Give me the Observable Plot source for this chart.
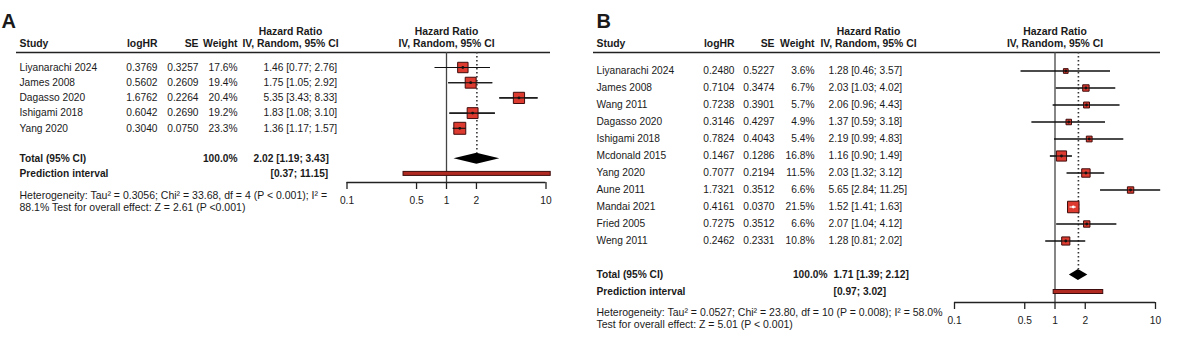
<!DOCTYPE html>
<html><head><meta charset="utf-8">
<script src="https://cdn.jsdelivr.net/npm/d3@7"></script>
<script src="https://cdn.jsdelivr.net/npm/@observablehq/plot@0.6"></script>
<style>
body{margin:0;background:#fff;}
#wrap{display:flex;width:1190px;height:351px;overflow:hidden;}
</style></head><body><div id="wrap"></div>
<script>
// ---------- Panel A data ----------
const studiesA = ["Liyanarachi 2024","James 2008","Dagasso 2020","Ishigami 2018","Yang 2020"];
const logHRA = [0.3769,0.5602,1.6762,0.6042,0.3040];
const seA = [0.3257,0.2609,0.2264,0.2690,0.0750];
const weightA = [17.6,19.4,20.4,19.2,23.3];
const hrA = [1.46,1.75,5.35,1.83,1.36];
const loA = [0.77,1.05,3.43,1.08,1.17];
const hiA = [2.76,2.92,8.33,3.10,1.57];
const totalA = [2.02,1.19,3.43];
const predA = [0.37,11.15];
const hetA = ["Heterogeneity: Tau² = 0.3056; Chi² = 33.68, df = 4 (P < 0.001); I² =",
              "88.1% Test for overall effect: Z = 2.61 (P <0.001)"];

// ---------- Panel B data ----------
const studiesB = ["Liyanarachi 2024","James 2008","Wang 2011","Dagasso 2020","Ishigami 2018","Mcdonald 2015","Yang 2020","Aune 2011","Mandai 2021","Fried 2005","Weng 2011"];
const logHRB = [0.2480,0.7104,0.7238,0.3146,0.7824,0.1467,0.7077,1.7321,0.4161,0.7275,0.2462];
const seB = [0.5227,0.3474,0.3901,0.4297,0.4043,0.1286,0.2194,0.3512,0.0370,0.3512,0.2331];
const weightB = [3.6,6.7,5.7,4.9,5.4,16.8,11.5,6.6,21.5,6.6,10.8];
const hrB = [1.28,2.03,2.06,1.37,2.19,1.16,2.03,5.65,1.52,2.07,1.28];
const loB = [0.46,1.03,0.96,0.59,0.99,0.90,1.32,2.84,1.41,1.04,0.81];
const hiB = [3.57,4.02,4.43,3.18,4.83,1.49,3.12,11.25,1.63,4.12,2.02];
const totalB = [1.71,1.39,2.12];
const predB = [0.97,3.02];
const hetB = ["Heterogeneity: Tau² = 0.0527; Chi² = 23.80, df = 10 (P = 0.008); I² = 58.0%",
              "Test for overall effect: Z = 5.01 (P < 0.001)"];

const axisTicks = [0.1,0.5,1,2,10];
const FONT = "'Liberation Sans', Arial, Helvetica, sans-serif";

function panel(cfg, L) {
  const rows = cfg.studies.map((s,i)=>({i, study:s, logHR:cfg.logHR[i], se:cfg.se[i], w:cfg.weight[i], hr:cfg.hr[i], lo:cfg.lo[i], hi:cfg.hi[i]}));
  const toRow = px => (px - L.row0)/L.step;
  const headerRow = toRow(L.headerPx), axisRow = toRow(L.axisPx);
  const [tHR,tLo,tHi] = cfg.total;
  const dh = L.diamondHalf/L.step, ph = L.predHalf/L.step;
  const rMax = 7, wMax = 25;
  const pxPerDecade = (L.x10-L.x01)/2;
  const inside = d => (Math.log10(d.hi)-Math.log10(d.lo))*pxPerDecade < Math.sqrt(Math.PI)*rMax*Math.sqrt(d.w/wMax);
  const cx = px => px - L.ml;
  const diamond = [
    {x:tLo, y1:L.totalIdx, y2:L.totalIdx},
    {x:tHR, y1:L.totalIdx-dh, y2:L.totalIdx+dh},
    {x:tHi, y1:L.totalIdx, y2:L.totalIdx}
  ];
  const hdr = (txt, px, py, anchor, extra={}) => Plot.text([txt], {text:d=>d, frameAnchor:"top-left", dx:cx(px), dy:py, textAnchor:anchor, fontWeight:"bold", fontSize:10.4, ...extra});
  const col = (fn, px, anchor, extra={}) => Plot.text(rows, {y:"i", text:fn, frameAnchor:"left", dx:cx(px), textAnchor:anchor, ...extra});
  const one = (txt, row, px, anchor, extra={}) => Plot.text([txt], {y:()=>row, text:d=>d, frameAnchor:"left", dx:cx(px), textAnchor:anchor, ...extra});
  const fmtCI = (h,l,u) => `${h.toFixed(2)} [${l.toFixed(2)}; ${u.toFixed(2)}]`;

  return Plot.plot({
    width: L.W, height: 351,
    marginLeft: L.ml, marginRight: L.mr, marginTop: 0, marginBottom: 351 - L.axisPx,
    x: {type:"log", domain:[0.1,10], range:[L.x01, L.x10]},
    y: {domain:[0,1], range:[L.row0, L.row0+L.step], axis:null},
    r: {type:"sqrt", domain:[0,wMax], range:[0,rMax]},
    style: {fontFamily:FONT, fontSize:"10.2px", color:"#1a1a1a", background:"white", overflow:"visible"},
    marks: [
      // panel letter
      Plot.text([cfg.letter], {text:d=>d, frameAnchor:"top-left", dx:cx(L.letterX), dy:13, textAnchor:"start", fontWeight:"bold", fontSize:20}),
      // headers
      hdr("Study", L.studyX, 39, "start"),
      hdr("logHR", L.logR, 39, "end"),
      hdr("SE", L.seR, 39, "end"),
      hdr("Weight", L.wR, 39, "end"),
      hdr("Hazard Ratio", L.hrHdrC, 27, "middle"),
      hdr("IV, Random, 95% CI", L.hrHdrC, 39, "middle"),
      Plot.text([1], {x:d=>d, text:()=>"Hazard Ratio", frameAnchor:"top", dy:27, fontWeight:"bold", fontSize:10.4}),
      Plot.text([1], {x:d=>d, text:()=>"IV, Random, 95% CI", frameAnchor:"top", dy:39, fontWeight:"bold", fontSize:10.4}),
      Plot.ruleY([headerRow], {stroke:"#222", strokeWidth:1.6}),
      // table rows
      col(d=>d.study, L.studyX, "start"),
      col(d=>d.logHR.toFixed(4), L.logR, "end"),
      col(d=>d.se.toFixed(4), L.seR, "end"),
      col(d=>d.w.toFixed(1)+"%", L.wR, "end"),
      col(d=>fmtCI(d.hr,d.lo,d.hi), L.hrX, "start"),
      one("Total (95% CI)", L.totalIdx, L.studyX, "start", {fontWeight:"bold"}),
      one("100.0%", L.totalIdx, L.totalWR, "end", {fontWeight:"bold"}),
      one(fmtCI(tHR,tLo,tHi), L.totalIdx, L.totalHrX, "start", {fontWeight:"bold"}),
      one("Prediction interval", L.predIdx, L.studyX, "start", {fontWeight:"bold"}),
      one(`[${cfg.pred[0].toFixed(2)}; ${cfg.pred[1].toFixed(2)}]`, L.predIdx, L.predX, "start", {fontWeight:"bold"}),
      hdr(cfg.het[0], L.studyX, L.hetY[0], "start", {fontWeight:"normal", fontSize:10.5}),
      hdr(cfg.het[1], L.studyX, L.hetY[1], "start", {fontWeight:"normal", fontSize:10.5}),
      // forest: reference lines
      Plot.ruleX([1], {y1:()=>headerRow, y2:()=>axisRow, stroke:"#444", strokeWidth:1.3}),
      Plot.ruleX([tHR], {y1:()=>headerRow, y2:()=>L.totalIdx-dh, stroke:"#333", strokeWidth:1.6, strokeDasharray:"1.6,2.4"}),
      // axis
      Plot.ruleY([axisRow], {x1:()=>0.1, x2:()=>10, stroke:"#222", strokeWidth:1.3}),
      Plot.axisX({ticks:axisTicks, tickFormat:d=>String(d), tickSize:7, tickPadding:7, label:null, fontSize:10.2, stroke:"#222", strokeWidth:1.3}),
      // studies
      Plot.ruleY(rows, {y:"i", x1:"lo", x2:"hi", stroke:"#111", strokeWidth:1.1}),
      Plot.dot(rows, {x:"hr", y:"i", r:"w", symbol:"square", fill:"#dd3b2f", stroke:"#3e0c0c", strokeWidth:1}),
      Plot.ruleY(rows, {y:"i", x1:"lo", x2:"hi", stroke:d=>inside(d)?"white":"#111", strokeWidth:1.1}),
      Plot.dot(rows, {x:"hr", y:"i", r:1.4, fill:d=>inside(d)?"white":"#111"}),
      // total diamond
      Plot.areaY(diamond, {x:"x", y1:"y1", y2:"y2", fill:"black"}),
      // prediction interval
      Plot.rect([cfg.pred], {x1:d=>d[0], x2:d=>d[1], y1:()=>L.predIdx-ph, y2:()=>L.predIdx+ph, fill:"#b02a22", stroke:"#3e0c0c", strokeWidth:1})
    ]
  });
}

const LA = {W:590, ml:16, mr:40, x01:346.5, x10:545.5, row0:67, step:15.2, headerPx:52, axisPx:182,
  totalIdx:6, predIdx:7, hetY:[191,203], studyX:19, logR:157, seR:198, wR:237, hrX:263, totalHrX:253, predX:270,
  totalWR:237, hrHdrC:290, letterX:1, diamondHalf:5.5, predHalf:2};
const LB = {W:600, ml:3, mr:30, x01:364, x10:565, row0:70.5, step:17.0, headerPx:52, axisPx:302,
  totalIdx:12, predIdx:13, hetY:[308,320], studyX:6, logR:144, seR:184, wR:224, hrX:238, totalHrX:243, predX:243,
  totalWR:237, hrHdrC:278, letterX:6, diamondHalf:5.5, predHalf:2};

const wrap = document.getElementById("wrap");
wrap.append(panel({letter:"A", studies:studiesA, logHR:logHRA, se:seA, weight:weightA, hr:hrA, lo:loA, hi:hiA, total:totalA, pred:predA, het:hetA}, LA));
wrap.append(panel({letter:"B", studies:studiesB, logHR:logHRB, se:seB, weight:weightB, hr:hrB, lo:loB, hi:hiB, total:totalB, pred:predB, het:hetB}, LB));
</script></body></html>
